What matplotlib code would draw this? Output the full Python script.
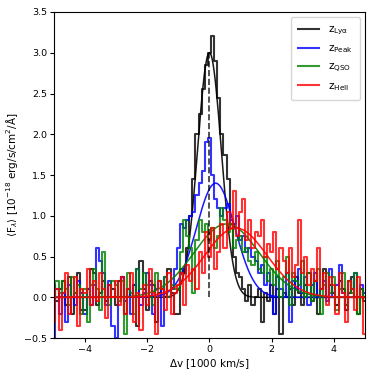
import numpy as np
import matplotlib
matplotlib.use("Agg")
import matplotlib.pyplot as plt

# velocity grid (1000 km/s), bins of 100 km/s
dv = np.round(np.arange(-5.0, 5.05, 0.1), 2)

flux_lya = [0.15, -0.05, 0.1, 0.2, -0.1, 0.25, -0.2, 0.05, 0.3, -0.15,
            -0.15, 0.1, 0.35, 0.3, -0.1, 0.05, 0.2, -0.05, 0.15, 0.1,
            -0.1, 0.2, 0.25, -0.2, 0.1, 0.0, 0.15, -0.35, 0.45, 0.1,
            -0.15, 0.2, 0.15, -0.3, 0.05, 0.1, 0.0, 0.35, 0.05, -0.2,
            -0.2, 0.35, 0.3, 0.6, 1.0, 1.45, 2.0, 2.25, 2.55, 2.85,
            3.0, 3.2, 2.9, 2.45, 2.0, 1.75, 1.45, 0.9, 0.5, 0.3,
            0.25, 0.1, -0.05, 0.15, -0.1, 0.0, 0.1, -0.3, 0.05, -0.05,
            0.15, -0.2, 0.1, -0.45, 0.05, 0.0, 0.1, -0.1, 0.25, 0.05,
            -0.1, 0.15, 0.3, -0.05, 0.2, -0.2, 0.1, 0.35, 0.0, 0.15,
            0.05, -0.1, 0.2, 0.1, -0.15, 0.05, 0.25, 0.0, -0.2, 0.1, -0.05]

flux_peak = [-0.5, 0.1, -0.2, 0.05, -0.3, 0.15, 0.0, -0.1, 0.2, 0.05,
             -0.2, 0.1, -0.1, 0.15, 0.6, 0.45, 0.3, -0.1, 0.2, -0.35,
             -0.5, 0.0, 0.25, -0.05, 0.1, -0.2, 0.15, 0.35, -0.1, 0.05,
             0.3, 0.15, -0.2, 0.1, 0.2, -0.35, 0.25, 0.0, 0.1, 0.35,
             0.6, 0.9, 0.85, 0.95, 1.0, 1.05, 1.25, 1.4, 1.55, 1.9,
             1.95, 1.5, 1.2, 1.1, 1.0, 1.1, 1.15, 0.95, 0.9, 1.0,
             0.7, 0.75, 0.55, 0.6, 0.5, 0.45, 0.3, 0.4, 0.15, 0.3,
             0.0, -0.2, 0.25, 0.1, 0.0, 0.3, -0.3, 0.2, 0.1, 0.35,
             0.05, 0.25, -0.1, 0.15, 0.3, 0.0, 0.1, 0.2, -0.05, 0.35,
             0.0, 0.15, 0.4, 0.05, -0.1, 0.2, 0.1, 0.3, 0.0, 0.15, 0.05]

flux_qso = [0.0, 0.2, 0.05, 0.2, 0.1, -0.1, 0.25, 0.05, 0.15, -0.2,
            0.1, -0.3, 0.15, 0.35, 0.1, -0.15, 0.55, 0.0, -0.1, 0.2,
            0.15, -0.05, 0.2, -0.45, 0.3, 0.05, -0.2, 0.35, 0.1, 0.3,
            0.15, 0.0, -0.1, 0.3, 0.2, 0.1, 0.25, 0.0, 0.15, 0.1,
            0.1, 0.55, 0.95, 0.75, 0.6, 0.05, 0.7, 0.95, 0.8, 0.9,
            0.7, 0.85, 0.6, 0.75, 1.1, 0.95, 0.8, 0.9, 0.6, 0.7,
            0.75, 0.55, 0.6, 0.45, 0.4, 0.55, 0.35, 0.3, 0.5, 0.2,
            0.35, 0.15, 0.45, 0.0, 0.25, 0.5, -0.1, 0.3, 0.2, 0.15,
            0.45, 0.0, 0.3, -0.05, 0.2, 0.35, -0.2, 0.15, 0.3, 0.05,
            0.25, -0.15, 0.1, 0.3, -0.1, 0.2, 0.05, 0.3, -0.2, 0.1, 0.0]

flux_heii = [-0.3, 0.1, -0.4, 0.05, 0.3, -0.2, 0.0, 0.25, -0.35, 0.1,
             0.05, 0.35, -0.1, 0.2, -0.05, 0.3, 0.1, -0.25, 0.15, 0.0,
             0.2, -0.1, 0.25, -0.2, 0.1, 0.3, -0.3, 0.05, -0.4, 0.15,
             -0.1, 0.35, 0.05, -0.45, 0.2, 0.1, -0.15, 0.3, -0.2, 0.05,
             0.15, 0.3, -0.1, 0.4, 0.2, 0.35, 0.1, 0.55, 0.3, 0.8,
             0.5, 0.85, 0.35, 0.55, 0.9, 0.6, 1.05, 0.85, 1.3, 0.75,
             1.05, 1.2, 0.7, 0.95, 0.6, 0.8, 0.75, 0.95, 0.5, 0.65,
             0.55, 0.8, 0.35, 0.6, 0.45, 0.3, 0.6, 0.25, 0.4, 0.95,
             0.3, 0.5, 0.15, 0.35, 0.2, 0.6, 0.1, 0.3, -0.1, 0.25,
             0.15, -0.2, 0.3, 0.05, -0.3, 0.2, 0.1, -0.15, 0.25, 0.0, -0.45]

# gaussian fit parameters: amplitude, centre, sigma
fit_amp = [3.0, 1.4, 0.9, 0.85]
fit_mu = [0.0, 0.2, 0.55, 0.85]
fit_sig = [0.38, 0.62, 1.05, 1.0]

labels = [r"$\rm z_{Ly\alpha}$", r"$\rm z_{Peak}$", r"$\rm z_{QSO}$", r"$\rm z_{HeII}$"]
colors = ["k", "b", "g", "r"]
series = [flux_lya, flux_peak, flux_qso, flux_heii]

fig = plt.figure(figsize=(3.74, 3.74), dpi=100)
ax = fig.add_axes([0.144, 0.096, 0.832, 0.872])

xfit = np.linspace(-5, 5, 500)
for flux, col, lab, a, m, s in zip(series, colors, labels, fit_amp, fit_mu, fit_sig):
    ax.step(dv, flux, where="mid", color=col, lw=1.5, alpha=0.8, label=lab)
    ax.plot(xfit, a * np.exp(-(xfit - m) ** 2 / (2 * s ** 2)), color=col, lw=1.1, alpha=0.9)

ax.vlines(0, 0, fit_amp[0], colors="k", linestyles="--", lw=1.2, alpha=0.8)

ax.set_xlim(-5, 5)
ax.set_ylim(-0.5, 3.5)
ax.set_xticks([-4, -2, 0, 2, 4])
ax.set_yticks(np.arange(-0.5, 3.6, 0.5))
ax.tick_params(labelsize=6.8, length=3, pad=2)
ax.set_xlabel(r"$\Delta$v [1000 km/s]", fontsize=7.5, labelpad=2)
ax.set_ylabel(r"$\langle \mathrm{F}_\lambda \rangle$ [10$^{-18}$ erg/s/cm$^2$/Å]", fontsize=7.5, labelpad=3)
ax.legend(loc="upper right", fontsize=7.5, borderpad=0.7, labelspacing=0.6)

fig.savefig("out.png", dpi=100)
